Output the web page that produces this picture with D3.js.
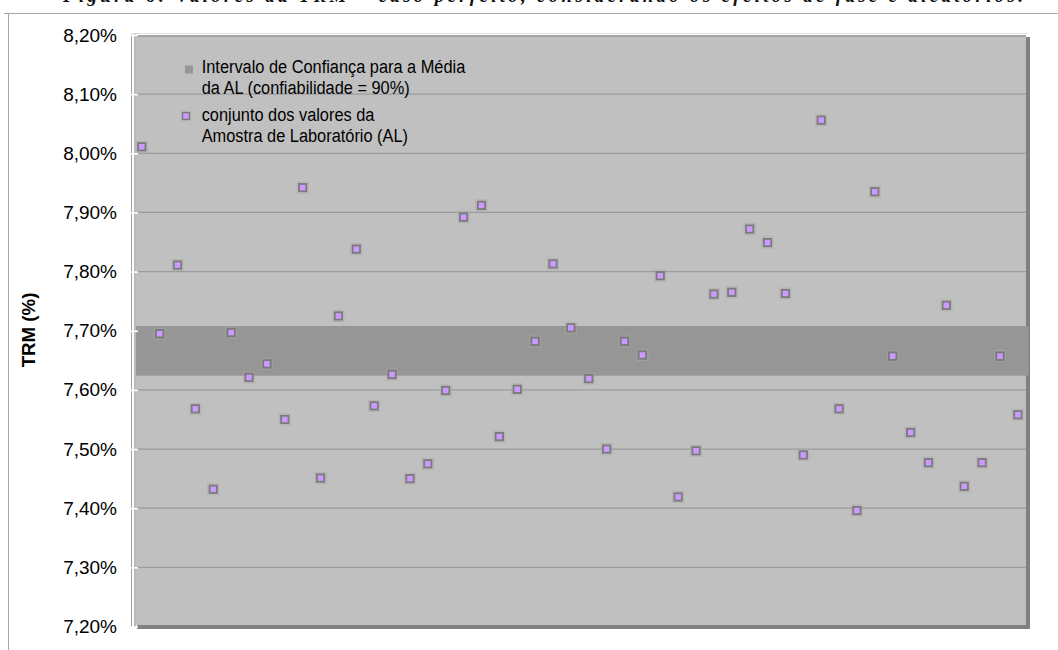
<!DOCTYPE html>
<html>
<head>
<meta charset="utf-8">
<script src="https://cdn.jsdelivr.net/npm/d3@7"></script>
<style>
  html, body { margin: 0; padding: 0; background: #ffffff; }
  svg { display: block; }
</style>
</head>
<body>
<svg id="chart" width="1058" height="650"></svg>
<script>
// ---- data ----
const categories = [1,2,3,4,5,6,7,8,9,10,11,12,13,14,15,16,17,18,19,20,21,22,23,24,25,
                    26,27,28,29,30,31,32,33,34,35,36,37,38,39,40,41,42,43,44,45,46,47,48,49,50];
const values = [8.011,7.695,7.811,7.568,7.432,7.697,7.621,7.644,7.550,7.942,
                7.451,7.725,7.838,7.573,7.626,7.450,7.475,7.599,7.892,7.912,
                7.521,7.601,7.682,7.813,7.705,7.619,7.500,7.682,7.659,7.793,
                7.419,7.497,7.762,7.765,7.872,7.849,7.763,7.490,8.056,7.568,
                7.396,7.935,7.657,7.528,7.477,7.743,7.437,7.477,7.657,7.558];
const confidenceInterval = [7.624, 7.708];
const tickValues = [7.2, 7.3, 7.4, 7.5, 7.6, 7.7, 7.8, 7.9, 8.0, 8.1, 8.2];
const tickLabels = ["7,20%","7,30%","7,40%","7,50%","7,60%","7,70%","7,80%","7,90%","8,00%","8,10%","8,20%"];
const legendLabels = [
  ["Intervalo de Confiança para a Média", "da AL (confiabilidade = 90%)"],
  ["conjunto dos valores da", "Amostra de Laboratório (AL)"]
];
const yTitle = "TRM (%)";
const figTitle = "Figura 6: Valores da TRM – caso perfeito, considerando os efeitos de fase e aleatórios.";

// ---- layout ----
const svg = d3.select("#chart");
const plot = { left: 136, right: 1026, top: 35, bottom: 625 };

const y = d3.scaleLinear().domain([7.2, 8.2]).range([626.5, 35]);
const x = d3.scaleBand().domain(categories).range([132.8, 1026.8]).paddingInner(0).paddingOuter(0);

// cropped caption at the very top (the reference shows only its lower edge)
svg.append("text")
  .attr("x", 543).attr("y", 2)
  .attr("text-anchor", "middle")
  .attr("textLength", 960).attr("lengthAdjust", "spacing")
  .style("font-family", "'Liberation Serif', 'DejaVu Serif', serif")
  .style("font-weight", "bold").style("font-style", "italic")
  .style("font-size", "19px").attr("fill", "#111")
  .text(figTitle);

// outer chart frame
svg.append("line").attr("x1", 4).attr("x2", 1058).attr("y1", 13.5).attr("y2", 13.5)
  .attr("stroke", "#a6a6a6").attr("stroke-width", 1);
svg.append("line").attr("x1", 8.5).attr("x2", 8.5).attr("y1", 13.5).attr("y2", 650)
  .attr("stroke", "#a6a6a6").attr("stroke-width", 1);

// shadow right/bottom
svg.append("rect").attr("x", plot.right).attr("y", 37).attr("width", 4).attr("height", 592).attr("fill", "#808080");
svg.append("rect").attr("x", 137).attr("y", plot.bottom).attr("width", plot.right + 2 - 137).attr("height", 4).attr("fill", "#808080");

// plot background
svg.append("rect").attr("x", plot.left).attr("y", plot.top)
  .attr("width", plot.right - plot.left).attr("height", plot.bottom - plot.top)
  .attr("fill", "#c0c0c0");

// top border (double)
svg.append("line").attr("x1", 132).attr("x2", 1028).attr("y1", 33.5).attr("y2", 33.5)
  .attr("stroke", "#dcdcdc").attr("stroke-width", 1.2);
svg.append("line").attr("x1", 135).attr("x2", 1026).attr("y1", 36).attr("y2", 36)
  .attr("stroke", "#9a9a9a").attr("stroke-width", 1.3);

// gridlines
svg.append("g").selectAll("line")
  .data(tickValues.filter(v => v > 7.2 && v < 8.2))
  .join("line")
  .attr("x1", plot.left).attr("x2", plot.right)
  .attr("y1", d => y(d)).attr("y2", d => y(d))
  .attr("stroke", "#9c9c9c").attr("stroke-width", 1.2);

// confidence band
svg.append("rect")
  .attr("x", plot.left).attr("width", 1028.7 - plot.left)
  .attr("y", y(confidenceInterval[1]))
  .attr("height", y(confidenceInterval[0]) - y(confidenceInterval[1]))
  .attr("fill", "#969696");

// left axis double line
svg.append("rect").attr("x", 131).attr("y", 34).attr("width", 4.5).attr("height", 593).attr("fill", "#ffffff");
svg.append("line").attr("x1", 131.5).attr("x2", 131.5).attr("y1", 34).attr("y2", 627)
  .attr("stroke", "#a0a0a0").attr("stroke-width", 1);
svg.append("line").attr("x1", 135).attr("x2", 135).attr("y1", 34).attr("y2", 627)
  .attr("stroke", "#8c8c8c").attr("stroke-width", 1.2);

// y axis ticks & labels
const axis = d3.axisLeft(y)
  .tickValues(tickValues)
  .tickFormat((d, i) => tickLabels[i])
  .tickSizeInner(8).tickSizeOuter(0).tickPadding(13);
const gAxis = svg.append("g").attr("transform", "translate(138,0)").call(axis);
gAxis.select(".domain").remove();
gAxis.selectAll(".tick line").attr("stroke", "#ffffff").attr("stroke-width", 1.6);
gAxis.selectAll(".tick text")
  .style("font-family", "'Liberation Sans', Arial, sans-serif")
  .style("font-size", "19px").attr("fill", "#000");

// y title
svg.append("text")
  .attr("transform", "translate(34.5,330) rotate(-90)")
  .attr("text-anchor", "middle")
  .style("font-family", "'Liberation Sans', Arial, sans-serif")
  .style("font-weight", "bold").style("font-size", "18.7px")
  .attr("fill", "#000")
  .text(yTitle);

// points
const pts = svg.append("g");
pts.selectAll("rect.halo")
  .data(values)
  .join("rect").attr("class", "halo")
  .attr("x", (d, i) => x(categories[i]) + x.bandwidth() / 2 - 5.5)
  .attr("y", d => y(d) - 5.5)
  .attr("width", 11).attr("height", 11)
  .attr("fill", "none").attr("stroke", "#a8a8a8").attr("stroke-width", 1).attr("opacity", 0.6);
pts.selectAll("rect.pt")
  .data(values)
  .join("rect").attr("class", "pt")
  .attr("x", (d, i) => x(categories[i]) + x.bandwidth() / 2 - 3.7)
  .attr("y", d => y(d) - 3.7)
  .attr("width", 7.4).attr("height", 7.4)
  .attr("fill", "#cc99ff").attr("stroke", "#7a7a7a").attr("stroke-width", 1.8);

// legend
const leg = svg.append("g");
leg.append("rect").attr("x", 185).attr("y", 65.5).attr("width", 8).attr("height", 8).attr("fill", "#969696");
leg.append("rect").attr("x", 182.5).attr("y", 112.5).attr("width", 7).attr("height", 7)
  .attr("fill", "#cc99ff").attr("stroke", "#7a7a7a").attr("stroke-width", 1.5);
const baselines = [[73.3, 94.2], [120.7, 141.7]];
legendLabels.forEach((lines, k) => {
  lines.forEach((t, j) => {
    leg.append("text")
      .attr("transform", `translate(201.7,${baselines[k][j]}) scale(0.88,1)`)
      .style("font-family", "'Liberation Sans', Arial, sans-serif")
      .style("font-size", "18.6px").attr("fill", "#000")
      .text(t);
  });
});
</script>
</body>
</html>
